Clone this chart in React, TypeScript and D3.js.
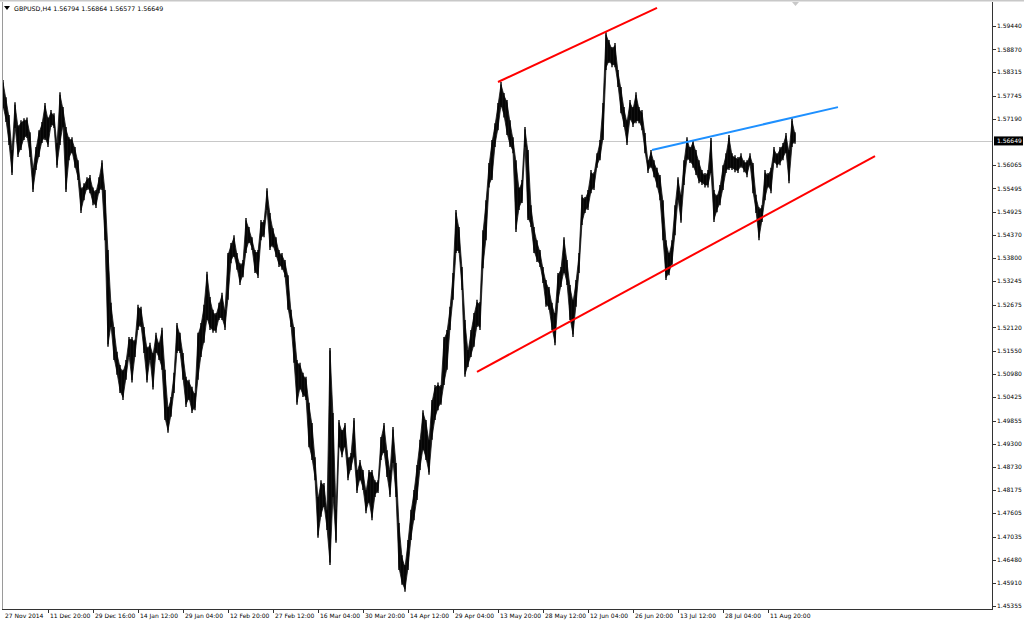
import React from "react";
import * as d3 from "d3";

// ---- data (H4 bars grouped) ----
const barHigh = [
  1.5813, 1.5771, 1.5728, 1.5643, 1.5759, 1.5703, 1.5715, 1.5720, 1.5722, 1.5686,
  1.5600, 1.5650, 1.5691, 1.5711, 1.5757, 1.5722, 1.5740, 1.5732, 1.5660, 1.5783,
  1.5747, 1.5699, 1.5674, 1.5674, 1.5650, 1.5618, 1.5552, 1.5562, 1.5577, 1.5582,
  1.5552, 1.5546, 1.5577, 1.5618, 1.5546, 1.5400, 1.5272, 1.5213, 1.5153, 1.5121,
  1.5109, 1.5133, 1.5189, 1.5189, 1.5182, 1.5267, 1.5262, 1.5213, 1.5165, 1.5175,
  1.5150, 1.5199, 1.5175, 1.5211, 1.5109, 1.5019, 1.5043, 1.5102, 1.5223, 1.5199,
  1.5150, 1.5092, 1.5085, 1.5068, 1.5053, 1.5199, 1.5223, 1.5267, 1.5347, 1.5286,
  1.5255, 1.5247, 1.5272, 1.5296, 1.5255, 1.5393, 1.5417, 1.5436, 1.5393, 1.5368,
  1.5376, 1.5478, 1.5456, 1.5431, 1.5400, 1.5400, 1.5473, 1.5473, 1.5550, 1.5490,
  1.5453, 1.5431, 1.5400, 1.5393, 1.5376, 1.5339, 1.5255, 1.5213, 1.5133, 1.5126,
  1.5102, 1.5092, 1.5029, 1.4980, 1.4897, 1.4800, 1.4841, 1.4834, 1.4769, 1.5162,
  1.5004, 1.4769, 1.4987, 1.4963, 1.4980, 1.4897, 1.4907, 1.4992, 1.4866, 1.4890,
  1.4866, 1.4817, 1.4866, 1.4866, 1.4841, 1.4841, 1.4946, 1.4980, 1.4914, 1.4866,
  1.4970, 1.4883, 1.4737, 1.4659, 1.4635, 1.4696, 1.4769, 1.4817, 1.4878, 1.4939,
  1.5011, 1.4987, 1.4939, 1.5036, 1.5072, 1.5078, 1.5072, 1.5189, 1.5206, 1.5262,
  1.5344, 1.5497, 1.5456, 1.5359, 1.5230, 1.5157, 1.5206, 1.5247, 1.5279, 1.5274,
  1.5448, 1.5521, 1.5611, 1.5667, 1.5708, 1.5757, 1.5808, 1.5781, 1.5764, 1.5715,
  1.5674, 1.5618, 1.5552, 1.5570, 1.5699, 1.5643, 1.5509, 1.5456, 1.5424, 1.5400,
  1.5359, 1.5327, 1.5310, 1.5272, 1.5247, 1.5344, 1.5359, 1.5431, 1.5376, 1.5315,
  1.5279, 1.5327, 1.5393, 1.5534, 1.5529, 1.5546, 1.5594, 1.5589, 1.5635, 1.5667,
  1.5757, 1.5929, 1.5910, 1.5893, 1.5903, 1.5837, 1.5796, 1.5747, 1.5715, 1.5764,
  1.5747, 1.5783, 1.5747, 1.5740, 1.5684, 1.5618, 1.5643, 1.5618, 1.5600, 1.5582,
  1.5521, 1.5424, 1.5393, 1.5424, 1.5509, 1.5577, 1.5534, 1.5618, 1.5674, 1.5650,
  1.5667, 1.5643, 1.5618, 1.5594, 1.5587, 1.5594, 1.5672, 1.5546, 1.5534, 1.5558,
  1.5606, 1.5635, 1.5679, 1.5635, 1.5630, 1.5626, 1.5635, 1.5618, 1.5618, 1.5635,
  1.5611, 1.5534, 1.5504, 1.5509, 1.5594, 1.5587, 1.5600, 1.5650, 1.5635, 1.5650,
  1.5660, 1.5684, 1.5643, 1.5720, 1.5686,
];

const barLow = [
  1.5745, 1.5711, 1.5655, 1.5582, 1.5696, 1.5626, 1.5643, 1.5667, 1.5672, 1.5626,
  1.5541, 1.5594, 1.5626, 1.5660, 1.5667, 1.5650, 1.5699, 1.5696, 1.5600, 1.5655,
  1.5699, 1.5541, 1.5618, 1.5635, 1.5600, 1.5570, 1.5490, 1.5521, 1.5546, 1.5538,
  1.5509, 1.5502, 1.5538, 1.5546, 1.5424, 1.5165, 1.5213, 1.5133, 1.5097, 1.5053,
  1.5036, 1.5085, 1.5140, 1.5078, 1.5140, 1.5206, 1.5213, 1.5150, 1.5078, 1.5133,
  1.5061, 1.5150, 1.5133, 1.5109, 1.4987, 1.4956, 1.4995, 1.5053, 1.5150, 1.5150,
  1.5085, 1.5019, 1.5036, 1.5004, 1.5011, 1.5085, 1.5140, 1.5175, 1.5230, 1.5206,
  1.5199, 1.5199, 1.5230, 1.5230, 1.5206, 1.5279, 1.5368, 1.5383, 1.5352, 1.5315,
  1.5334, 1.5393, 1.5417, 1.5400, 1.5344, 1.5332, 1.5424, 1.5431, 1.5497, 1.5400,
  1.5407, 1.5383, 1.5359, 1.5352, 1.5334, 1.5255, 1.5213, 1.5126, 1.5024, 1.5061,
  1.5043, 1.5036, 1.4921, 1.4890, 1.4841, 1.4701, 1.4752, 1.4776, 1.4720, 1.4635,
  1.4800, 1.4689, 1.4921, 1.4897, 1.4921, 1.4841, 1.4866, 1.4897, 1.4810, 1.4841,
  1.4817, 1.4761, 1.4786, 1.4744, 1.4800, 1.4810, 1.4890, 1.4907, 1.4849, 1.4800,
  1.4883, 1.4800, 1.4623, 1.4587, 1.4570, 1.4623, 1.4696, 1.4744, 1.4793, 1.4866,
  1.4914, 1.4890, 1.4854, 1.4939, 1.4987, 1.5011, 1.5024, 1.5072, 1.5109, 1.5206,
  1.5279, 1.5393, 1.5393, 1.5303, 1.5092, 1.5116, 1.5140, 1.5165, 1.5213, 1.5206,
  1.5356, 1.5424, 1.5552, 1.5570, 1.5650, 1.5691, 1.5747, 1.5722, 1.5679, 1.5650,
  1.5635, 1.5444, 1.5497, 1.5514, 1.5650, 1.5473, 1.5456, 1.5393, 1.5371, 1.5359,
  1.5320, 1.5262, 1.5255, 1.5206, 1.5169, 1.5272, 1.5310, 1.5344, 1.5315, 1.5230,
  1.5189, 1.5262, 1.5344, 1.5461, 1.5490, 1.5497, 1.5538, 1.5546, 1.5600, 1.5618,
  1.5667, 1.5837, 1.5854, 1.5844, 1.5844, 1.5796, 1.5732, 1.5699, 1.5655, 1.5715,
  1.5699, 1.5708, 1.5708, 1.5691, 1.5635, 1.5587, 1.5600, 1.5577, 1.5552, 1.5521,
  1.5424, 1.5327, 1.5339, 1.5364, 1.5436, 1.5521, 1.5466, 1.5558, 1.5618, 1.5611,
  1.5600, 1.5582, 1.5562, 1.5558, 1.5552, 1.5552, 1.5587, 1.5468, 1.5492, 1.5509,
  1.5546, 1.5587, 1.5594, 1.5594, 1.5589, 1.5587, 1.5600, 1.5589, 1.5577, 1.5606,
  1.5538, 1.5490, 1.5424, 1.5468, 1.5521, 1.5552, 1.5538, 1.5611, 1.5600, 1.5606,
  1.5618, 1.5635, 1.5562, 1.5650, 1.5658,
];

const priceTicks = [
  1.5944, 1.5887, 1.58315, 1.57745, 1.5719, 1.56065, 1.55495, 1.54925, 1.5437,
  1.538, 1.53245, 1.52675, 1.5212, 1.5155, 1.5098, 1.50425, 1.49855, 1.493,
  1.4873, 1.48175, 1.47605, 1.47035, 1.4648, 1.4591, 1.45355,
];

const timeLabels = [
  "27 Nov 2014", "11 Dec 20:00", "29 Dec 16:00", "14 Jan 12:00", "29 Jan 04:00",
  "12 Feb 20:00", "27 Feb 12:00", "16 Mar 04:00", "30 Mar 20:00", "14 Apr 12:00",
  "29 Apr 04:00", "13 May 20:00", "28 May 12:00", "12 Jun 04:00", "26 Jun 20:00",
  "13 Jul 12:00", "28 Jul 04:00", "11 Aug 20:00",
];
const barsPerLabel = 15;

const currentPrice = 1.56649;
const headerText = "GBPUSD,H4  1.56794 1.56864 1.56577 1.56649";

// trend lines: [barIndex, price] pairs
const upperRed = [[165, 1.5808], [218, 1.5988]];
const lowerRed = [[158, 1.5104], [290.67, 1.5628]];
const blueLine = [[216.33, 1.5643], [278.33, 1.5747]];

const W = 1024;
const H = 623;
const FONT = "'DejaVu Sans', Tahoma, sans-serif";

export default function App() {
  const x = d3.scaleLinear().domain([0, 330]).range([3, 993]);
  const y = d3.scaleLinear().domain([1.45355, 1.5944]).range([606, 26]);
  const plotLeft = 2;
  const plotRight = 992;
  const plotTop = 2;
  const plotBottom = 609;

  const line = d3
    .line<number[]>()
    .x((d) => x(d[0]))
    .y((d) => y(d[1]));

  const idx = barHigh.map((_, i) => i);
  const band = d3
    .area<number>()
    .x((i) => x(i))
    .y0((i) => y(barLow[i]) - 2.5)
    .y1((i) => y(barHigh[i]) + 2.5)
    .curve(d3.curveLinear);

  return (
    <svg
      width={W}
      height={H}
      style={{ position: "absolute", left: 0, top: 0, background: "#fff" }}
      fontFamily={FONT}
    >
      <rect x={0} y={0} width={W} height={H} fill="#fff" />
      <rect x={0} y={0} width={W} height={1.5} fill="#c8c8c8" />
      {/* current price line */}
      <line
        x1={plotLeft}
        x2={plotRight}
        y1={Math.round(y(currentPrice)) + 0.5}
        y2={Math.round(y(currentPrice)) + 0.5}
        stroke="#c8c8c8"
        strokeWidth={1}
      />
      {/* bars: dense band plus individual high-low wicks */}
      <path d={band(idx) || ""} fill="#111" stroke="#111" strokeWidth={0.8} />
      <g stroke="#000" strokeWidth={1.4}>
        {barHigh.map((h, i) => {
          const y1 = y(h);
          let y2 = y(barLow[i]);
          if (y2 - y1 < 1) y2 = y1 + 1;
          return <line key={i} x1={x(i)} x2={x(i)} y1={y1} y2={y2} />;
        })}
      </g>
      {/* trend lines */}
      <path d={line(upperRed) || ""} stroke="#ff0000" strokeWidth={2} fill="none" />
      <path d={line(lowerRed) || ""} stroke="#ff0000" strokeWidth={2} fill="none" />
      <path d={line(blueLine) || ""} stroke="#1e90ff" strokeWidth={2} fill="none" />

      {/* frame */}
      <line x1={plotLeft + 0.5} x2={plotLeft + 0.5} y1={plotTop} y2={plotBottom} stroke="#9a9a9a" />
      <line x1={plotRight + 0.5} x2={plotRight + 0.5} y1={plotTop} y2={plotBottom + 0.5} stroke="#333" />
      <line x1={plotLeft} x2={plotRight + 1} y1={plotBottom + 0.5} y2={plotBottom + 0.5} stroke="#333" />
      {/* chart shift marker */}
      <path d="M792,2 L799,2 L795.5,6 Z" fill="#c8c8c8" />

      {/* header */}
      <path d="M4,6 L10,6 L7,10 Z" fill="#000" />
      <text x={14} y={11} fontSize={6.3} fill="#000">
        {headerText}
      </text>

      {/* price axis */}
      <g fontSize={6} fill="#000">
        {priceTicks.map((p) => (
          <g key={p}>
            <line
              x1={plotRight + 1}
              x2={plotRight + 4}
              y1={Math.round(y(p)) + 0.5}
              y2={Math.round(y(p)) + 0.5}
              stroke="#333"
            />
            <text x={997} y={y(p)} dy="0.35em">
              {p.toFixed(5)}
            </text>
          </g>
        ))}
      </g>
      {/* current price label */}
      <rect x={994} y={y(currentPrice) - 4.5} width={29} height={9} fill="#000" />
      <text x={997} y={y(currentPrice)} dy="0.35em" fontSize={6} fill="#fff">
        {currentPrice.toFixed(5)}
      </text>

      {/* time axis */}
      <g fontSize={6} fill="#000">
        {timeLabels.map((t, k) => {
          const xi = Math.round(x(k * barsPerLabel)) + 0.5;
          return (
            <g key={t}>
              {k > 0 && (
                <line x1={xi} x2={xi} y1={plotBottom} y2={plotBottom + 4} stroke="#333" />
              )}
              <text x={xi + 1.5} y={618}>
                {t}
              </text>
            </g>
          );
        })}
      </g>
    </svg>
  );
}
